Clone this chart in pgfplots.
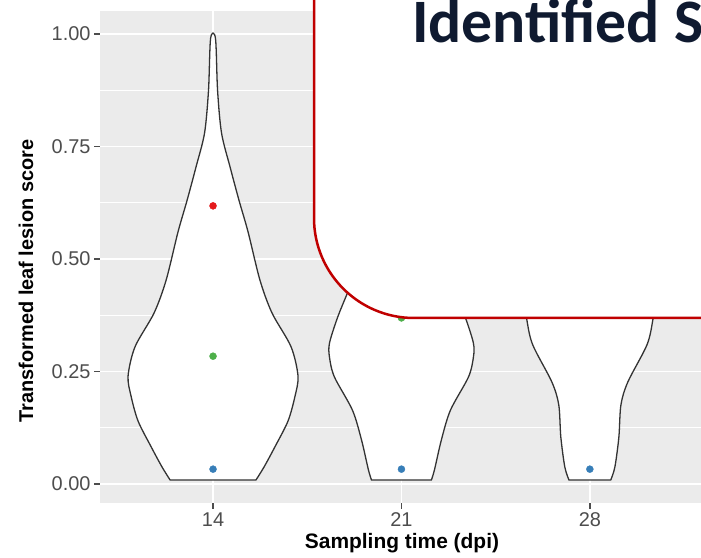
\documentclass[border=0pt]{standalone}
\usepackage{pgfplots}
\pgfplotsset{compat=1.18}
\usepackage{fontspec}
\setmainfont{Liberation Sans}
\newfontfamily\boxfont{Carlito}

\definecolor{panel}{HTML}{EBEBEB}
\definecolor{tickgray}{HTML}{4D4D4D}
\definecolor{vline}{HTML}{333333}
\definecolor{dotred}{HTML}{E41A1C}
\definecolor{dotgreen}{HTML}{4DAF4A}
\definecolor{dotblue}{HTML}{377EB8}
\definecolor{boxred}{HTML}{C00000}
\definecolor{navy}{HTML}{0F1A30}

\begin{document}
\begin{tikzpicture}
\useasboundingbox (0bp,0bp) rectangle (701bp,558bp);
\clip (0bp,0bp) rectangle (701bp,558bp);
\fill[white] (0bp,0bp) rectangle (701bp,558bp);

\begin{axis}[
    at={(100bp,55bp)}, anchor=south west,
    scale only axis,
    width=601bp, height=492bp,
    xmin=0.4, xmax=3.59,
    ymin=-0.0422, ymax=1.051,
    axis background/.style={fill=panel},
    axis line style={draw=none},
    xtick={1,2,3}, xticklabels={14,21,28},
    ytick={0,0.25,0.5,0.75,1}, yticklabels={0.00,0.25,0.50,0.75,1.00},
    minor ytick={0.125,0.375,0.625,0.875},
    xtick pos=bottom, ytick pos=left,
    xmajorgrids, ymajorgrids, yminorgrids,
    major grid style={white, line width=1.8bp},
    minor grid style={white, line width=0.9bp},
    tick align=outside,
    major tick length=6bp, minor tick length=0bp,
    tick style={tickgray, line width=1.4bp},
    ticklabel style={font=\fontsize{20}{24}\selectfont, text=tickgray},
    clip=true,
]
% violin at 14 dpi
\addplot[smooth, tension=0.5, fill=white, draw=vline, line width=1.3bp] coordinates {
    (1.228,0.009) (1.271,0.038) (1.329,0.083) (1.398,0.14) (1.435,0.195)
    (1.451,0.24) (1.414,0.305) (1.313,0.38) (1.249,0.453) (1.186,0.56)
    (1.138,0.63) (1.090,0.705) (1.045,0.78) (1.024,0.875) (1.013,0.99)
    (0.987,0.99) (0.976,0.875) (0.955,0.78) (0.910,0.705) (0.862,0.63)
    (0.814,0.56) (0.751,0.453) (0.687,0.38) (0.586,0.305) (0.549,0.24)
    (0.565,0.195) (0.602,0.14) (0.671,0.083) (0.729,0.038) (0.772,0.009)
} -- cycle;
% violin at 21 dpi
\addplot[smooth, tension=0.5, fill=white, draw=vline, line width=1.3bp] coordinates {
    (2.159,0.009) (2.175,0.031) (2.212,0.098) (2.260,0.164) (2.356,0.238)
    (2.382,0.282) (2.382,0.313) (2.340,0.369) (2.287,0.424) (2.212,0.5)
    (2.133,0.6) (2.074,0.7) (2.032,0.8) (2.013,0.85)
    (1.987,0.85) (1.968,0.8) (1.926,0.7) (1.867,0.6) (1.788,0.5)
    (1.713,0.424) (1.660,0.369) (1.618,0.313) (1.618,0.282) (1.644,0.238)
    (1.740,0.164) (1.788,0.098) (1.825,0.031) (1.841,0.009)
} -- cycle;
% violin at 28 dpi
\addplot[smooth, tension=0.5, fill=white, draw=vline, line width=1.3bp] coordinates {
    (3.111,0.009) (3.133,0.038) (3.154,0.104) (3.165,0.176) (3.202,0.227)
    (3.303,0.309) (3.334,0.364) (3.350,0.42) (3.308,0.5) (3.212,0.6)
    (3.106,0.7) (3.042,0.8) (3.013,0.87)
    (2.987,0.87) (2.958,0.8) (2.894,0.7) (2.788,0.6) (2.692,0.5)
    (2.650,0.42) (2.666,0.364) (2.697,0.309) (2.798,0.227) (2.835,0.176)
    (2.846,0.104) (2.867,0.038) (2.889,0.009)
} -- cycle;
% points
\addplot[only marks, mark=*, mark size=3.5bp, color=dotred] coordinates {(1,0.618)};
\addplot[only marks, mark=*, mark size=3.5bp, color=dotgreen] coordinates {(1,0.284) (2,0.369)};
\addplot[only marks, mark=*, mark size=3.5bp, color=dotblue] coordinates {(1,0.033) (2,0.033) (3,0.033)};
\end{axis}

\node[rotate=90, anchor=base, font=\bfseries\fontsize{20}{24}\selectfont] at (33bp,277bp) {Transformed leaf lesion score};
\node[anchor=base, font=\bfseries\fontsize{21}{25}\selectfont] at (402bp,10bp) {Sampling time (dpi)};

% overlapping slide box
\filldraw[fill=white, draw=boxred, line width=2.5bp, rounded corners=100bp]
    (314bp,720bp) -- (314bp,240bp) -- (820bp,240bp) -- (820bp,720bp) -- cycle;
\node[anchor=base west, inner sep=0pt, text=navy, font=\boxfont\bfseries\fontsize{62}{70}\selectfont] at (412bp,515bp) {Identified S};
\end{tikzpicture}
\end{document}
